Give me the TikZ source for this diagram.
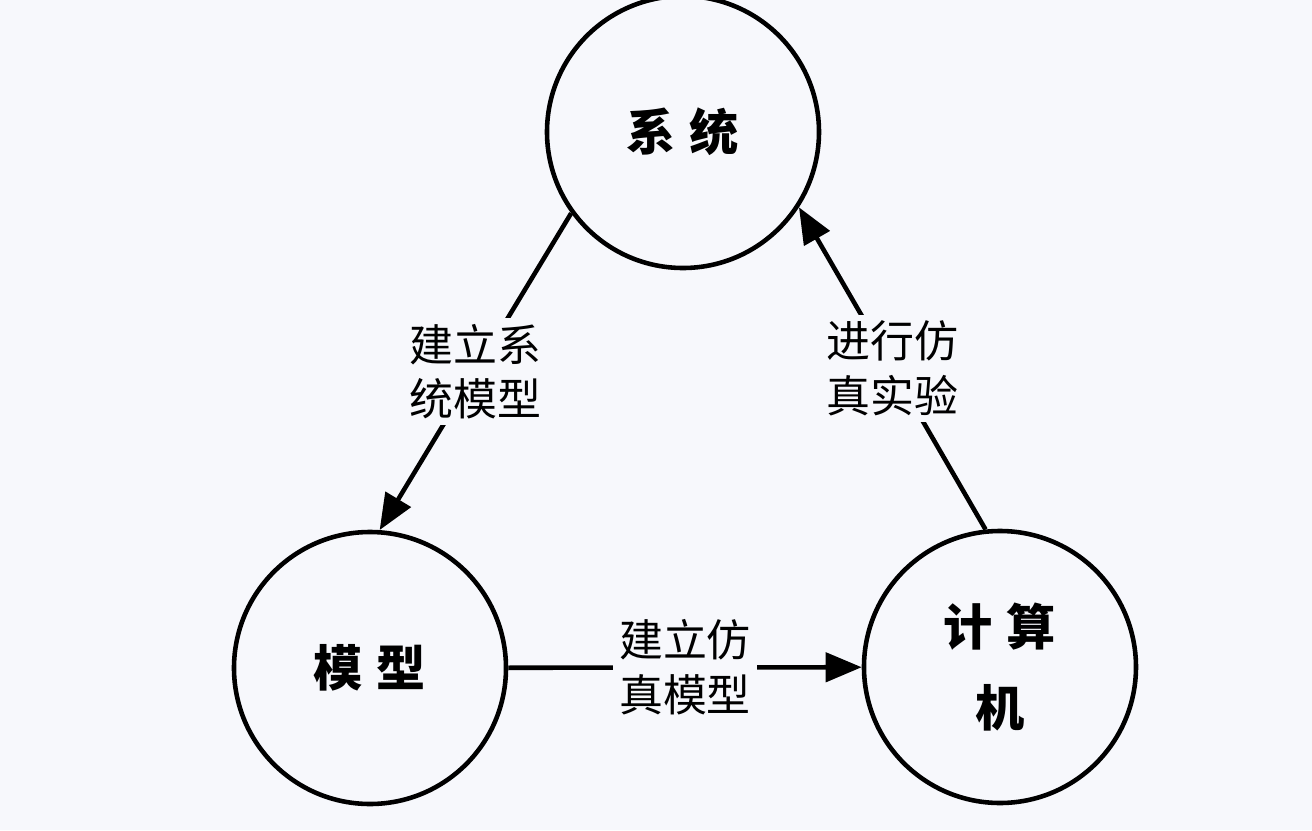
\documentclass[tikz,border=0pt]{standalone}
\usepackage{fontspec}
\setmainfont{Noto Sans CJK SC}
\usetikzlibrary{arrows.meta}
\definecolor{paper}{RGB}{247,248,252}
\tikzset{
	stage/.style={circle, draw, line width=1.3pt, minimum size=2.72cm, inner sep=0pt, align=center, font=\fontsize{14}{23}\selectfont\bfseries},
	flow/.style={line width=1.3pt, -{Triangle[length=0.36cm,width=0.29cm]}},
	note/.style={fill=paper, align=center, inner sep=0.06cm, font=\fontsize{12.5}{15.6}\selectfont}
}
\begin{document}
\begin{tikzpicture}
	\useasboundingbox[fill=paper] (0,0) rectangle (13.12,8.30);
	\node[stage] (sys) at (6.83,6.98) {系\hspace{0.14cm}统};
	\node[stage] (mod) at (3.70,1.62) {模\hspace{0.14cm}型};
	\node[stage] (com) at (10.00,1.63) {计\hspace{0.14cm}算\\机};
	\draw[flow] (sys.216) -- node[note] {建立系\\统模型} (mod.86);
	\draw[flow] (mod) -- node[note] {建立仿\\真模型} (com);
	\draw[flow] (com.96) -- node[note] {进行仿\\真实验} (sys.327);
\end{tikzpicture}
\end{document}
